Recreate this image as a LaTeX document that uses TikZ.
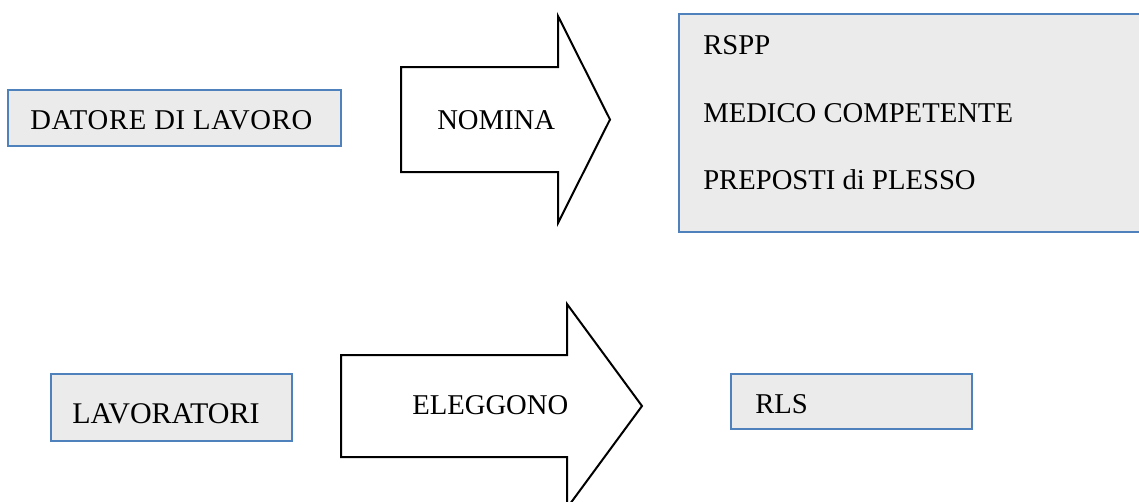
\documentclass[tikz,border=0pt]{standalone}
\usepackage{fontspec}
\setmainfont{Liberation Serif}
\definecolor{boxblue}{RGB}{79,129,189}
\definecolor{boxgray}{RGB}{235,235,235}
\tikzset{
	box/.style={draw=boxblue, fill=boxgray, line width=1.5},
	blockarrow/.style={draw=black, fill=white, line width=1.5, line join=miter},
	txt/.style={font=\fontsize{21.5}{25}\selectfont, inner sep=0, anchor=base west},
}
\begin{document}
\begin{tikzpicture}[x=0.75pt,y=0.75pt,yscale=-1]
	\path[use as bounding box] (0,0) rectangle (1139,501);
	\clip (0,0) rectangle (1139,501);
	
	%Shape: Rectangle [datore]
	\draw[box] (8,90) -- (341,90) -- (341,146) -- (8,146) -- cycle ;
	%Shape: Right Arrow [nomina]
	\draw[blockarrow] (401,67) -- (558,67) -- (558,16) -- (610,119.5) -- (558,223) -- (558,172) -- (401,172) -- cycle ;
	%Shape: Rectangle [nominati]
	\draw[box] (679,14) -- (1150,14) -- (1150,232) -- (679,232) -- cycle ;
	
	%Shape: Rectangle [lavoratori]
	\draw[box] (51,374) -- (292,374) -- (292,441) -- (51,441) -- cycle ;
	%Shape: Right Arrow [eleggono]
	\draw[blockarrow] (341,355) -- (567,355) -- (567,304) -- (642,406) -- (567,508) -- (567,457) -- (341,457) -- cycle ;
	%Shape: Rectangle [rls]
	\draw[box] (731,374) -- (972,374) -- (972,429) -- (731,429) -- cycle ;
	
	% Text Node
	\node[txt, font=\fontsize{21.5}{25}\selectfont\addfontfeature{LetterSpace=2.5}] (datoreTxt) at (30,129) {DATORE DI LAVORO};
	% Text Node
	\node[txt] (nominaTxt) at (437,129) {NOMINA};
	% Text Node
	\node[txt] (rsppTxt) at (703,54) {RSPP};
	% Text Node
	\node[txt] (medicoTxt) at (703,122) {MEDICO COMPETENTE};
	% Text Node
	\node[txt] (prepostiTxt) at (703,189) {PREPOSTI di PLESSO};
	% Text Node
	\node[txt, font=\fontsize{22.5}{26}\selectfont] (lavoratoriTxt) at (72,423) {LAVORATORI};
	% Text Node
	\node[txt] (eleggonoTxt) at (412,414) {ELEGGONO};
	% Text Node
	\node[txt] (rlsTxt) at (755,413) {RLS};
\end{tikzpicture}
\end{document}
